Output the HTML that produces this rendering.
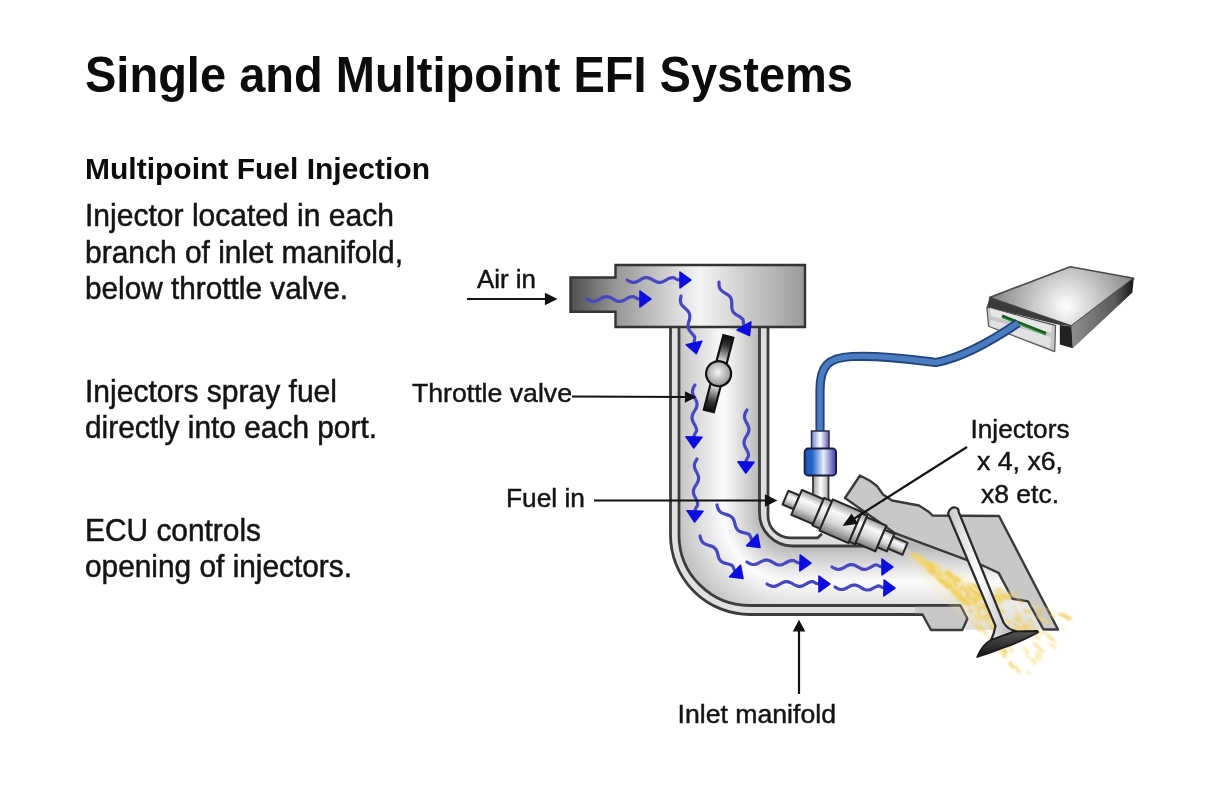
<!DOCTYPE html>
<html><head><meta charset="utf-8">
<style>
html,body{margin:0;padding:0;background:#fff;}
body{width:1215px;height:810px;overflow:hidden;position:relative;}
svg{position:absolute;left:0;top:0;display:block;filter:blur(0.45px);}
</style></head>
<body>
<svg width="1215" height="810" viewBox="0 0 1215 810" font-family="Liberation Sans, sans-serif">
<defs>
  <linearGradient id="gPlen" x1="570" x2="805" y1="0" y2="0" gradientUnits="userSpaceOnUse">
    <stop offset="0" stop-color="#4e4e4e"/><stop offset="0.19" stop-color="#959595"/><stop offset="0.55" stop-color="#f4f4f4"/><stop offset="1" stop-color="#9a9a9a"/>
  </linearGradient>
  <linearGradient id="gStub" x1="570" x2="615" y1="0" y2="0" gradientUnits="userSpaceOnUse">
    <stop offset="0" stop-color="#505050"/><stop offset="1" stop-color="#a4a4a4"/>
  </linearGradient>
  <linearGradient id="gPipe" x1="678.5" x2="759.5" y1="0" y2="0" gradientUnits="userSpaceOnUse">
    <stop offset="0" stop-color="#c4c4c4"/><stop offset="0.56" stop-color="#fcfcfc"/><stop offset="1" stop-color="#b8b8b8"/>
  </linearGradient>
  <radialGradient id="gBend" cx="792.5" cy="513" r="114" fx="792.5" fy="513" gradientUnits="userSpaceOnUse">
    <stop offset="0" stop-color="#b8b8b8"/><stop offset="0.2895" stop-color="#b8b8b8"/><stop offset="0.601" stop-color="#fcfcfc"/><stop offset="1" stop-color="#c4c4c4"/>
  </radialGradient>
  <linearGradient id="gChan" x1="0" x2="0" y1="546" y2="627" gradientUnits="userSpaceOnUse">
    <stop offset="0" stop-color="#b8b8b8"/><stop offset="0.438" stop-color="#fcfcfc"/><stop offset="1" stop-color="#c4c4c4"/>
  </linearGradient>
  <linearGradient id="gCyl" x1="0" x2="0" y1="0" y2="1">
    <stop offset="0" stop-color="#9a9a9a"/><stop offset="0.3" stop-color="#fafafa"/><stop offset="0.65" stop-color="#d4d4d4"/><stop offset="1" stop-color="#7a7a7a"/>
  </linearGradient>
  <linearGradient id="gBlue" x1="0" x2="1" y1="0" y2="0">
    <stop offset="0" stop-color="#1a50b8"/><stop offset="0.25" stop-color="#2a66c8"/><stop offset="0.6" stop-color="#e6eefc"/><stop offset="1" stop-color="#3a3aa8"/>
  </linearGradient>
  <linearGradient id="gWhite" x1="0" x2="1" y1="0" y2="0">
    <stop offset="0" stop-color="#6a86c8"/><stop offset="0.5" stop-color="#ffffff"/><stop offset="1" stop-color="#5a5ab0"/>
  </linearGradient>
  <linearGradient id="gPlate" x1="0" x2="0" y1="0" y2="1">
    <stop offset="0" stop-color="#0c0c0c"/><stop offset="0.12" stop-color="#333"/><stop offset="0.36" stop-color="#f2f2f2"/><stop offset="0.5" stop-color="#ffffff"/><stop offset="0.64" stop-color="#f2f2f2"/><stop offset="0.88" stop-color="#333"/><stop offset="1" stop-color="#0c0c0c"/>
  </linearGradient>
  <radialGradient id="gBall" cx="0.45" cy="0.45" r="0.6">
    <stop offset="0" stop-color="#f6f6f6"/><stop offset="1" stop-color="#8a8a8a"/>
  </radialGradient>
  <radialGradient id="gEcuTop" cx="1066" cy="306" r="80" gradientUnits="userSpaceOnUse">
    <stop offset="0" stop-color="#ffffff"/><stop offset="1" stop-color="#787878"/>
  </radialGradient>
  <linearGradient id="gStem" x1="0" x2="1" y1="0" y2="0">
    <stop offset="0" stop-color="#c8c8c8"/><stop offset="0.45" stop-color="#ffffff"/><stop offset="1" stop-color="#b0b0b0"/>
  </linearGradient>
  <linearGradient id="gNeck" x1="0" x2="1" y1="0" y2="0">
    <stop offset="0" stop-color="#9a9a9a"/><stop offset="0.5" stop-color="#ffffff"/><stop offset="1" stop-color="#a8a8a8"/>
  </linearGradient>
  <linearGradient id="gVHead" x1="0" x2="0" y1="0" y2="1">
    <stop offset="0" stop-color="#555"/><stop offset="1" stop-color="#151515"/>
  </linearGradient>
  <linearGradient id="gEcuSide" x1="1072" y1="0" x2="1134" y2="0" gradientUnits="userSpaceOnUse">
    <stop offset="0" stop-color="#8e8e8e"/><stop offset="0.7" stop-color="#5a5a5a"/><stop offset="1" stop-color="#141414"/>
  </linearGradient>
  <clipPath id="cInt">
    <path d="M679,327 H759.5 V513 A33,33 0 0 0 792.5,546 H850 L894,533 L965.2,559.4 L983.7,567.8 L1000.4,573.3 L1013.3,597.4 L1032,599.3 L1043.5,629.5 L965,629.5 L967,618 L960.5,606 H750 A71,71 0 0 1 679,535 Z"/>
  </clipPath>
  <filter id="soft" x="-20%" y="-20%" width="140%" height="140%"><feGaussianBlur stdDeviation="0.7"/></filter>
  <filter id="soft2" x="-20%" y="-20%" width="140%" height="140%"><feGaussianBlur stdDeviation="0.9"/></filter>
</defs>

<!-- ===== TEXT ===== -->
<g fill="#0c0c0c">
  <text x="85" y="92" font-size="50" font-weight="bold" textLength="768" lengthAdjust="spacingAndGlyphs">Single and Multipoint EFI Systems</text>
  <text x="85" y="179.2" font-size="30" font-weight="bold" textLength="345" lengthAdjust="spacingAndGlyphs">Multipoint Fuel Injection</text>
  <g font-size="30.5" fill="#141414" stroke="#141414" stroke-width="0.5">
    <text x="85" y="226" textLength="309" lengthAdjust="spacingAndGlyphs">Injector located in each</text>
    <text x="85" y="262.5" textLength="318" lengthAdjust="spacingAndGlyphs">branch of inlet manifold,</text>
    <text x="85" y="299" textLength="263" lengthAdjust="spacingAndGlyphs">below throttle valve.</text>
    <text x="85" y="402" textLength="252" lengthAdjust="spacingAndGlyphs">Injectors spray fuel</text>
    <text x="85" y="438" textLength="292" lengthAdjust="spacingAndGlyphs">directly into each port.</text>
    <text x="85" y="541" textLength="176" lengthAdjust="spacingAndGlyphs">ECU controls</text>
    <text x="85" y="577" textLength="267" lengthAdjust="spacingAndGlyphs">opening of injectors.</text>
  </g>
  <g font-size="26.5" fill="#141414" stroke="#141414" stroke-width="0.45">
    <text x="477" y="287.5" textLength="59" lengthAdjust="spacingAndGlyphs">Air in</text>
    <text x="412" y="402" textLength="160" lengthAdjust="spacingAndGlyphs">Throttle valve</text>
    <text x="506" y="506.5" textLength="79" lengthAdjust="spacingAndGlyphs">Fuel in</text>
    <text x="677.5" y="722.5" textLength="158.5" lengthAdjust="spacingAndGlyphs">Inlet manifold</text>
    <text x="970.5" y="437.5" textLength="99" lengthAdjust="spacingAndGlyphs">Injectors</text>
    <text x="977" y="470" textLength="86" lengthAdjust="spacingAndGlyphs">x 4, x6,</text>
    <text x="981" y="502.5" textLength="78" lengthAdjust="spacingAndGlyphs">x8 etc.</text>
  </g>
</g>

<!-- ===== DIAGRAM ===== -->
<g id="diagram">
  <!-- interior -->
  <g clip-path="url(#cInt)">
    <rect x="679" y="320" width="81" height="194" fill="url(#gPipe)"/>
    <rect x="679" y="513" width="114.5" height="95" fill="url(#gBend)"/>
    <rect x="793" y="513" width="270" height="120" fill="url(#gChan)"/>
    <path d="M960,600 L1045,600 L1045,630 L960,630 Z" fill="#f2f2f2" opacity="0.6"/>
  </g>

  <!-- wall bands -->
  <path d="M670.5,327 V535 A79.5,79.5 0 0 0 750,614.5 H924 V605.5 H749.5 A70.5,70.5 0 0 1 679,535 V327 Z" fill="#e0e0e0"/>
  <path d="M759.5,327 V513 A33,33 0 0 0 792.5,546 H866 L822,533.8 L817.6,537.8 H790 A22,22 0 0 1 768,515.8 V327 Z" fill="#dedede"/>

  <!-- wall lines -->
  <g fill="none" stroke="#3c3c3c" stroke-width="2.8" filter="url(#soft)">
    <path d="M670.5,327 V535 A79.5,79.5 0 0 0 750,614.5 H924"/>
    <path d="M679,327 V535 A70.5,70.5 0 0 0 749.5,605.5 H960.5"/>
    <path d="M759.5,327 V513 A33,33 0 0 0 792.5,546 H866"/>
    <path d="M768,327 V515.8 A22,22 0 0 0 790,537.8 H817.6 L822,533.8"/>
  </g>

  <!-- plenum & stub -->
  <path d="M570.5,277.5 H615.5 V265 H805 V327 H615.5 V311.7 H570.5 Z" fill="url(#gPlen)" stroke="#333" stroke-width="2.4" stroke-linejoin="miter"/>

  <!-- upper head -->
  <path d="M845,498 L860,475.5 L869.5,480.5 L877,486 L883,494.5 L892,500.5 L919,505.5 L929,512 L932.5,515.5 L999,516 L1058,629.5 L1043.5,629.5 L1028,601.4 L1012.4,598.8 L998.6,572.9 L983.7,566 L965.2,559.4 L894.2,532.8 Z" fill="#c8c8c8" stroke="#3a3a3a" stroke-width="2.4" stroke-linejoin="round"/>
  <!-- lower head -->
  <path d="M922.5,614.4 L931,630 L962.3,630 L967.4,618.7 L960.5,605.5 L915,605.5 L915,614.4 Z" fill="#c8c8c8"/>
  <path d="M900,614.5 L922.5,614.5 L931,630 L962.3,630 L967.4,618.7 L960.5,605.5 L900,605.5" fill="none" stroke="#3a3a3a" stroke-width="2.4" stroke-linejoin="round"/>

  <!-- blue flow arrows -->
  <g filter="url(#soft)">
<path d="M587.0,299.0 L588.5,299.9 L590.0,300.6 L591.5,301.1 L593.1,301.4 L594.6,301.3 L596.1,300.9 L597.6,300.3 L599.1,299.5 L600.6,298.6 L602.1,297.8 L603.7,297.1 L605.2,296.7 L606.7,296.6 L608.2,296.8 L609.7,297.3 L611.2,298.0 L612.7,298.9 L614.3,299.7 L615.8,300.5 L617.3,301.1 L618.8,301.4 L620.3,301.4 L621.8,301.0 L623.3,300.4 L624.9,299.7 L626.4,298.8 L627.9,297.9 L629.4,297.2 L630.9,296.8 L632.4,296.6 L633.9,296.7 L635.5,297.6 L637.0,298.4 L638.5,298.9 L640.0,299.0" fill="none" stroke="#4646c2" stroke-width="3.2" stroke-linecap="round"/><path d="M640.0,307.0 L651.0,299.0 L640.0,291.0 Z" fill="#0808e0" stroke="#0808e0" stroke-width="1.5" stroke-linejoin="round"/>
<path d="M627.0,280.0 L628.5,280.9 L630.0,281.6 L631.5,282.1 L633.1,282.4 L634.6,282.3 L636.1,281.9 L637.6,281.3 L639.1,280.5 L640.6,279.6 L642.1,278.8 L643.7,278.1 L645.2,277.7 L646.7,277.6 L648.2,277.8 L649.7,278.3 L651.2,279.0 L652.7,279.9 L654.3,280.7 L655.8,281.5 L657.3,282.1 L658.8,282.4 L660.3,282.4 L661.8,282.0 L663.3,281.4 L664.9,280.7 L666.4,279.8 L667.9,278.9 L669.4,278.2 L670.9,277.8 L672.4,277.6 L673.9,277.7 L675.5,278.6 L677.0,279.4 L678.5,279.9 L680.0,280.0" fill="none" stroke="#4646c2" stroke-width="3.2" stroke-linecap="round"/><path d="M680.0,288.0 L691.0,280.0 L680.0,272.0 Z" fill="#0808e0" stroke="#0808e0" stroke-width="1.5" stroke-linejoin="round"/>
<path d="M681.0,296.0 L680.7,297.7 L680.4,299.4 L680.4,301.0 L680.7,302.5 L681.2,304.0 L682.1,305.3 L683.2,306.5 L684.4,307.7 L685.7,308.9 L687.0,310.1 L688.1,311.3 L689.0,312.6 L689.5,314.1 L689.8,315.6 L689.8,317.2 L689.6,318.9 L689.2,320.6 L688.6,322.3 L688.2,324.0 L688.0,325.6 L688.1,327.1 L688.5,328.6 L689.2,330.0 L690.1,331.3 L691.3,332.7 L692.4,334.0 L693.6,335.3 L694.5,336.6 L694.7,338.2 L694.5,339.8 L694.2,341.4 L694.0,343.0" fill="none" stroke="#4646c2" stroke-width="3.2" stroke-linecap="round"/><path d="M686.2,344.7 L696.3,353.7 L701.8,341.3 Z" fill="#0808e0" stroke="#0808e0" stroke-width="1.5" stroke-linejoin="round"/>
<path d="M719.0,282.0 L719.0,283.8 L719.1,285.5 L719.4,287.1 L719.9,288.5 L720.8,289.8 L721.9,290.9 L723.2,292.0 L724.7,292.9 L726.2,293.8 L727.7,294.7 L729.0,295.7 L730.1,296.9 L730.9,298.2 L731.4,299.6 L731.7,301.2 L731.8,303.0 L731.8,304.7 L731.8,306.5 L731.9,308.2 L732.2,309.8 L732.8,311.2 L733.6,312.5 L734.8,313.6 L736.1,314.6 L737.6,315.5 L739.1,316.4 L740.6,317.4 L741.9,318.4 L743.0,319.5 L743.3,321.1 L743.4,322.8 L743.6,324.5 L744.0,326.0" fill="none" stroke="#4646c2" stroke-width="3.2" stroke-linecap="round"/><path d="M737.1,330.0 L749.5,335.6 L750.9,322.0 Z" fill="#0808e0" stroke="#0808e0" stroke-width="1.5" stroke-linejoin="round"/>
<path d="M695.0,385.0 L694.1,386.5 L693.3,388.0 L692.8,389.5 L692.5,391.1 L692.5,392.6 L692.9,394.1 L693.5,395.7 L694.3,397.2 L695.2,398.8 L696.0,400.3 L696.6,401.9 L697.0,403.4 L697.0,404.9 L696.7,406.5 L696.2,408.0 L695.4,409.5 L694.5,411.0 L693.6,412.5 L692.8,414.0 L692.3,415.5 L692.0,417.1 L692.0,418.6 L692.4,420.1 L693.0,421.7 L693.8,423.2 L694.7,424.8 L695.5,426.3 L696.1,427.9 L696.5,429.4 L696.5,430.9 L695.7,432.4 L694.9,434.0 L694.2,435.5 L694.0,437.0" fill="none" stroke="#4646c2" stroke-width="3.2" stroke-linecap="round"/><path d="M686.0,436.8 L693.8,448.0 L702.0,437.2 Z" fill="#0808e0" stroke="#0808e0" stroke-width="1.5" stroke-linejoin="round"/>
<path d="M747.0,410.0 L746.1,411.5 L745.3,413.0 L744.8,414.5 L744.5,416.1 L744.5,417.6 L744.9,419.1 L745.5,420.7 L746.3,422.2 L747.2,423.8 L748.0,425.3 L748.6,426.9 L749.0,428.4 L749.0,429.9 L748.7,431.5 L748.2,433.0 L747.4,434.5 L746.5,436.0 L745.6,437.5 L744.8,439.0 L744.3,440.5 L744.0,442.1 L744.0,443.6 L744.4,445.1 L745.0,446.7 L745.8,448.2 L746.7,449.8 L747.5,451.3 L748.1,452.9 L748.5,454.4 L748.5,455.9 L747.7,457.4 L746.9,459.0 L746.2,460.5 L746.0,462.0" fill="none" stroke="#4646c2" stroke-width="3.2" stroke-linecap="round"/><path d="M738.0,461.8 L745.8,473.0 L754.0,462.2 Z" fill="#0808e0" stroke="#0808e0" stroke-width="1.5" stroke-linejoin="round"/>
<path d="M697.0,459.0 L696.1,460.5 L695.3,462.0 L694.7,463.5 L694.4,465.0 L694.4,466.6 L694.7,468.1 L695.3,469.7 L696.1,471.2 L696.9,472.8 L697.7,474.3 L698.3,475.9 L698.6,477.4 L698.6,479.0 L698.3,480.5 L697.7,482.0 L696.9,483.5 L696.0,485.0 L695.1,486.5 L694.3,488.0 L693.7,489.5 L693.4,491.0 L693.4,492.6 L693.7,494.1 L694.3,495.7 L695.1,497.2 L695.9,498.8 L696.7,500.3 L697.3,501.9 L697.6,503.4 L697.6,505.0 L696.8,506.5 L695.9,508.0 L695.3,509.5 L695.0,511.0" fill="none" stroke="#4646c2" stroke-width="3.2" stroke-linecap="round"/><path d="M687.0,510.7 L694.6,522.0 L703.0,511.3 Z" fill="#0808e0" stroke="#0808e0" stroke-width="1.5" stroke-linejoin="round"/>
<path d="M717.0,505.0 L717.4,506.7 L717.9,508.3 L718.6,509.7 L719.4,511.0 L720.5,512.0 L721.8,512.9 L723.3,513.5 L724.9,514.1 L726.5,514.6 L728.2,515.1 L729.7,515.7 L731.0,516.5 L732.2,517.5 L733.1,518.7 L733.8,520.1 L734.4,521.6 L734.8,523.3 L735.2,525.0 L735.7,526.6 L736.4,528.1 L737.2,529.4 L738.3,530.5 L739.6,531.3 L741.0,531.9 L742.6,532.4 L744.3,532.8 L746.0,533.2 L747.6,533.7 L749.1,534.3 L749.9,535.6 L750.6,537.1 L751.2,538.6 L752.0,540.0" fill="none" stroke="#4646c2" stroke-width="3.2" stroke-linecap="round"/><path d="M746.5,545.8 L760.0,547.5 L757.5,534.2 Z" fill="#0808e0" stroke="#0808e0" stroke-width="1.5" stroke-linejoin="round"/>
<path d="M700.0,536.0 L700.4,537.7 L700.9,539.3 L701.6,540.7 L702.4,542.0 L703.5,543.0 L704.8,543.9 L706.3,544.5 L707.9,545.1 L709.5,545.6 L711.2,546.1 L712.7,546.7 L714.0,547.5 L715.2,548.5 L716.1,549.7 L716.8,551.1 L717.4,552.6 L717.8,554.3 L718.2,556.0 L718.7,557.6 L719.4,559.1 L720.2,560.4 L721.3,561.5 L722.6,562.3 L724.0,562.9 L725.6,563.4 L727.3,563.8 L729.0,564.2 L730.6,564.7 L732.1,565.3 L732.9,566.6 L733.6,568.1 L734.2,569.6 L735.0,571.0" fill="none" stroke="#4646c2" stroke-width="3.2" stroke-linecap="round"/><path d="M729.5,576.8 L743.0,578.5 L740.5,565.2 Z" fill="#0808e0" stroke="#0808e0" stroke-width="1.5" stroke-linejoin="round"/>
<path d="M747.0,562.0 L748.5,562.9 L750.0,563.7 L751.5,564.2 L753.0,564.5 L754.5,564.5 L756.0,564.1 L757.6,563.5 L759.1,562.7 L760.6,561.9 L762.2,561.1 L763.7,560.5 L765.2,560.1 L766.7,560.0 L768.2,560.2 L769.7,560.7 L771.2,561.5 L772.7,562.3 L774.2,563.2 L775.7,564.0 L777.2,564.6 L778.8,565.0 L780.3,565.0 L781.8,564.7 L783.3,564.1 L784.8,563.4 L786.4,562.5 L787.9,561.7 L789.4,561.0 L791.0,560.6 L792.5,560.5 L794.0,560.6 L795.5,561.5 L797.0,562.4 L798.5,562.9 L800.0,563.0" fill="none" stroke="#4646c2" stroke-width="3.2" stroke-linecap="round"/><path d="M799.8,571.0 L811.0,563.2 L800.2,555.0 Z" fill="#0808e0" stroke="#0808e0" stroke-width="1.5" stroke-linejoin="round"/>
<path d="M767.0,584.0 L768.5,584.9 L770.1,585.6 L771.6,586.1 L773.1,586.4 L774.6,586.3 L776.2,585.9 L777.7,585.3 L779.2,584.4 L780.8,583.6 L782.3,582.7 L783.8,582.1 L785.4,581.7 L786.9,581.6 L788.4,581.9 L789.9,582.4 L791.5,583.1 L793.0,584.0 L794.5,584.9 L796.1,585.6 L797.6,586.1 L799.1,586.4 L800.6,586.3 L802.2,585.9 L803.7,585.3 L805.2,584.4 L806.8,583.6 L808.3,582.7 L809.8,582.1 L811.4,581.7 L812.9,581.6 L814.4,582.4 L815.9,583.2 L817.5,583.8 L819.0,584.0" fill="none" stroke="#4646c2" stroke-width="3.2" stroke-linecap="round"/><path d="M819.0,592.0 L830.0,584.0 L819.0,576.0 Z" fill="#0808e0" stroke="#0808e0" stroke-width="1.5" stroke-linejoin="round"/>
<path d="M832.0,567.0 L833.5,567.9 L835.0,568.6 L836.5,569.1 L838.1,569.4 L839.6,569.3 L841.1,568.9 L842.6,568.3 L844.1,567.5 L845.6,566.6 L847.2,565.8 L848.7,565.1 L850.2,564.7 L851.7,564.6 L853.2,564.8 L854.7,565.3 L856.2,566.0 L857.8,566.9 L859.3,567.7 L860.8,568.5 L862.3,569.1 L863.8,569.4 L865.3,569.4 L866.8,569.0 L868.4,568.4 L869.9,567.6 L871.4,566.8 L872.9,565.9 L874.4,565.2 L875.9,564.8 L877.5,565.2 L879.0,565.9 L880.5,566.5 L882.0,567.0" fill="none" stroke="#4646c2" stroke-width="3.2" stroke-linecap="round"/><path d="M882.0,575.0 L893.0,567.0 L882.0,559.0 Z" fill="#0808e0" stroke="#0808e0" stroke-width="1.5" stroke-linejoin="round"/>
<path d="M835.0,587.0 L836.5,587.9 L838.0,588.7 L839.5,589.2 L841.1,589.5 L842.6,589.5 L844.1,589.1 L845.7,588.5 L847.2,587.7 L848.8,586.8 L850.3,586.0 L851.9,585.4 L853.4,585.1 L855.0,585.0 L856.5,585.3 L858.0,585.9 L859.5,586.7 L861.0,587.6 L862.5,588.5 L864.1,589.2 L865.6,589.8 L867.1,590.0 L868.6,590.0 L870.2,589.6 L871.7,589.0 L873.3,588.2 L874.8,587.3 L876.4,586.6 L877.9,585.9 L879.4,586.1 L881.0,586.7 L882.5,587.4 L884.0,588.0" fill="none" stroke="#4646c2" stroke-width="3.2" stroke-linecap="round"/><path d="M883.8,596.0 L895.0,588.2 L884.2,580.0 Z" fill="#0808e0" stroke="#0808e0" stroke-width="1.5" stroke-linejoin="round"/>
  </g>

  <!-- spray -->
  <g filter="url(#soft2)">
<path d="M905,548 L965,575 L1000,610 L985,628 L955,612 L912,566 Z" fill="#f5e2a0" opacity="0.22"/>
<rect x="969.0" y="598.1" width="8.7" height="2.7" fill="#f3d466" opacity="0.68" transform="rotate(42 973.4 599.4)"/>
<rect x="933.1" y="570.3" width="7.5" height="3.0" fill="#f2da80" opacity="0.49" transform="rotate(41 936.9 571.8)"/>
<rect x="926.5" y="566.2" width="8.6" height="2.8" fill="#ecc848" opacity="0.72" transform="rotate(41 930.8 567.7)"/>
<rect x="1035.6" y="656.2" width="7.5" height="2.4" fill="#f0cc50" opacity="0.34" transform="rotate(44 1039.3 657.3)"/>
<rect x="917.3" y="557.0" width="6.0" height="2.2" fill="#ecc848" opacity="0.66" transform="rotate(35 920.3 558.1)"/>
<rect x="998.6" y="597.6" width="5.9" height="2.5" fill="#f0cc50" opacity="0.45" transform="rotate(32 1001.5 598.8)"/>
<rect x="973.4" y="592.6" width="9.0" height="3.2" fill="#f2da80" opacity="0.83" transform="rotate(37 977.9 594.2)"/>
<rect x="954.6" y="579.6" width="6.2" height="2.3" fill="#ecc848" opacity="0.79" transform="rotate(36 957.7 580.7)"/>
<rect x="924.4" y="561.8" width="5.3" height="2.2" fill="#f3d466" opacity="0.76" transform="rotate(37 927.0 562.9)"/>
<rect x="934.0" y="576.3" width="6.9" height="3.2" fill="#f0cc50" opacity="0.63" transform="rotate(47 937.4 577.9)"/>
<rect x="993.9" y="595.8" width="7.7" height="2.5" fill="#f0cc50" opacity="0.59" transform="rotate(32 997.7 597.0)"/>
<rect x="1031.3" y="662.1" width="5.5" height="2.4" fill="#f0cc50" opacity="0.37" transform="rotate(47 1034.1 663.3)"/>
<rect x="972.3" y="598.0" width="7.7" height="2.4" fill="#f3d466" opacity="0.68" transform="rotate(40 976.2 599.2)"/>
<rect x="967.8" y="591.2" width="6.6" height="3.2" fill="#f2da80" opacity="0.45" transform="rotate(39 971.1 592.8)"/>
<rect x="1066.5" y="616.3" width="5.7" height="3.2" fill="#f0cc50" opacity="0.54" transform="rotate(28 1069.3 617.9)"/>
<rect x="914.4" y="555.4" width="6.8" height="2.2" fill="#f2da80" opacity="0.72" transform="rotate(34 917.7 556.5)"/>
<rect x="966.8" y="582.7" width="5.8" height="2.8" fill="#f2da80" opacity="0.46" transform="rotate(33 969.7 584.2)"/>
<rect x="959.1" y="588.1" width="8.8" height="2.7" fill="#ecc848" opacity="0.71" transform="rotate(40 963.5 589.5)"/>
<rect x="934.3" y="566.9" width="8.6" height="3.0" fill="#f3d466" opacity="0.56" transform="rotate(35 938.7 568.4)"/>
<rect x="929.0" y="568.6" width="7.2" height="2.9" fill="#ecc848" opacity="0.62" transform="rotate(43 932.6 570.0)"/>
<rect x="995.2" y="608.2" width="5.4" height="2.2" fill="#f3d466" opacity="0.88" transform="rotate(38 998.0 609.3)"/>
<rect x="1015.1" y="619.0" width="6.7" height="3.1" fill="#f3d466" opacity="0.50" transform="rotate(37 1018.5 620.5)"/>
<rect x="1015.5" y="669.6" width="5.5" height="2.7" fill="#f0cc50" opacity="0.56" transform="rotate(52 1018.2 670.9)"/>
<rect x="943.3" y="585.0" width="5.8" height="2.2" fill="#ecc848" opacity="0.57" transform="rotate(48 946.2 586.1)"/>
<rect x="946.2" y="571.4" width="6.1" height="2.7" fill="#f0cc50" opacity="0.89" transform="rotate(33 949.2 572.7)"/>
<rect x="952.4" y="593.8" width="8.9" height="2.9" fill="#f3d466" opacity="0.76" transform="rotate(47 956.9 595.2)"/>
<rect x="977.4" y="625.2" width="6.9" height="2.6" fill="#f0cc50" opacity="0.59" transform="rotate(51 980.8 626.5)"/>
<rect x="910.6" y="554.2" width="6.9" height="2.9" fill="#f0cc50" opacity="0.59" transform="rotate(43 914.0 555.7)"/>
<rect x="917.6" y="559.4" width="7.9" height="3.1" fill="#f3d466" opacity="0.78" transform="rotate(41 921.6 561.0)"/>
<rect x="1002.2" y="649.7" width="6.4" height="2.9" fill="#ecc848" opacity="0.64" transform="rotate(51 1005.4 651.1)"/>
<rect x="1057.1" y="614.0" width="7.0" height="2.2" fill="#ecc848" opacity="0.56" transform="rotate(28 1060.6 615.1)"/>
<rect x="987.2" y="613.1" width="5.3" height="2.8" fill="#ecc848" opacity="0.90" transform="rotate(43 989.9 614.6)"/>
<rect x="1012.9" y="617.9" width="7.9" height="2.8" fill="#f0cc50" opacity="0.49" transform="rotate(37 1016.9 619.3)"/>
<rect x="980.1" y="604.0" width="6.2" height="2.3" fill="#f0cc50" opacity="0.46" transform="rotate(41 983.2 605.2)"/>
<rect x="974.3" y="603.9" width="8.7" height="2.5" fill="#f2da80" opacity="0.46" transform="rotate(42 978.7 605.1)"/>
<rect x="927.1" y="566.8" width="7.1" height="3.0" fill="#ecc848" opacity="0.60" transform="rotate(42 930.6 568.3)"/>
<rect x="981.1" y="595.9" width="6.6" height="2.5" fill="#f3d466" opacity="0.74" transform="rotate(36 984.4 597.1)"/>
<rect x="1035.4" y="631.6" width="7.3" height="2.5" fill="#ecc848" opacity="0.38" transform="rotate(37 1039.1 632.9)"/>
<rect x="952.8" y="592.9" width="5.2" height="2.3" fill="#f3d466" opacity="0.89" transform="rotate(47 955.4 594.0)"/>
<rect x="922.7" y="562.8" width="8.7" height="3.0" fill="#ecc848" opacity="0.62" transform="rotate(40 927.1 564.4)"/>
<rect x="994.1" y="627.0" width="8.4" height="2.8" fill="#f0cc50" opacity="0.45" transform="rotate(46 998.3 628.4)"/>
<rect x="945.1" y="581.0" width="7.7" height="2.5" fill="#f0cc50" opacity="0.61" transform="rotate(42 949.0 582.3)"/>
<rect x="1000.9" y="610.6" width="5.8" height="3.0" fill="#f3d466" opacity="0.43" transform="rotate(38 1003.8 612.1)"/>
<rect x="999.9" y="653.4" width="5.5" height="2.3" fill="#f2da80" opacity="0.52" transform="rotate(53 1002.6 654.6)"/>
<rect x="1034.1" y="657.1" width="5.8" height="2.7" fill="#f0cc50" opacity="0.40" transform="rotate(45 1037.0 658.5)"/>
<rect x="1013.2" y="627.9" width="5.1" height="2.4" fill="#f3d466" opacity="0.60" transform="rotate(41 1015.8 629.1)"/>
<rect x="957.9" y="596.1" width="8.6" height="2.3" fill="#ecc848" opacity="0.87" transform="rotate(45 962.2 597.3)"/>
<rect x="925.8" y="564.4" width="7.5" height="3.1" fill="#f2da80" opacity="0.62" transform="rotate(40 929.5 565.9)"/>
<rect x="970.7" y="600.9" width="5.8" height="2.9" fill="#f0cc50" opacity="0.82" transform="rotate(43 973.6 602.4)"/>
<rect x="933.5" y="576.7" width="8.9" height="3.2" fill="#f2da80" opacity="0.69" transform="rotate(47 937.9 578.2)"/>
<rect x="943.3" y="580.5" width="5.1" height="2.7" fill="#f2da80" opacity="0.47" transform="rotate(44 945.8 581.8)"/>
<rect x="977.5" y="615.5" width="6.9" height="2.2" fill="#f0cc50" opacity="0.81" transform="rotate(47 980.9 616.6)"/>
<rect x="973.0" y="585.4" width="7.1" height="2.9" fill="#ecc848" opacity="0.86" transform="rotate(33 976.5 586.8)"/>
<rect x="927.9" y="566.7" width="7.9" height="3.0" fill="#ecc848" opacity="0.76" transform="rotate(41 931.9 568.2)"/>
<rect x="983.0" y="615.8" width="8.0" height="2.6" fill="#f3d466" opacity="0.70" transform="rotate(45 987.0 617.1)"/>
<rect x="974.5" y="611.4" width="7.2" height="2.5" fill="#f3d466" opacity="0.62" transform="rotate(46 978.1 612.7)"/>
<rect x="953.3" y="577.3" width="7.2" height="2.5" fill="#ecc848" opacity="0.67" transform="rotate(34 956.8 578.5)"/>
<rect x="982.6" y="604.9" width="7.4" height="2.2" fill="#ecc848" opacity="0.89" transform="rotate(40 986.3 606.0)"/>
<rect x="970.5" y="621.6" width="5.5" height="2.3" fill="#ecc848" opacity="0.53" transform="rotate(53 973.3 622.8)"/>
<rect x="958.1" y="601.0" width="8.7" height="2.5" fill="#f3d466" opacity="0.66" transform="rotate(48 962.4 602.2)"/>
<rect x="949.5" y="591.2" width="8.7" height="3.1" fill="#f0cc50" opacity="0.69" transform="rotate(47 953.9 592.8)"/>
<rect x="932.8" y="572.2" width="8.7" height="2.3" fill="#f0cc50" opacity="0.80" transform="rotate(43 937.1 573.4)"/>
<rect x="914.2" y="554.7" width="5.0" height="2.5" fill="#f3d466" opacity="0.78" transform="rotate(35 916.8 556.0)"/>
<rect x="1003.9" y="595.8" width="7.9" height="2.3" fill="#f2da80" opacity="0.68" transform="rotate(30 1007.9 597.0)"/>
<rect x="1000.5" y="631.7" width="8.5" height="2.2" fill="#f3d466" opacity="0.55" transform="rotate(45 1004.7 632.9)"/>
<rect x="973.0" y="617.1" width="7.1" height="2.4" fill="#f3d466" opacity="0.55" transform="rotate(49 976.5 618.3)"/>
<rect x="937.6" y="577.4" width="8.2" height="3.1" fill="#f2da80" opacity="0.59" transform="rotate(45 941.7 578.9)"/>
<rect x="1043.1" y="620.9" width="8.1" height="2.4" fill="#f3d466" opacity="0.37" transform="rotate(32 1047.2 622.1)"/>
<rect x="928.2" y="562.4" width="6.6" height="2.6" fill="#f3d466" opacity="0.87" transform="rotate(33 931.4 563.7)"/>
<rect x="934.2" y="573.3" width="8.2" height="2.3" fill="#f2da80" opacity="0.71" transform="rotate(43 938.3 574.4)"/>
<rect x="1013.9" y="666.9" width="5.5" height="2.7" fill="#f3d466" opacity="0.59" transform="rotate(52 1016.7 668.2)"/>
<rect x="1021.8" y="629.6" width="5.1" height="3.0" fill="#ecc848" opacity="0.54" transform="rotate(40 1024.4 631.1)"/>
<rect x="930.2" y="564.1" width="5.8" height="3.0" fill="#f0cc50" opacity="0.90" transform="rotate(35 933.1 565.6)"/>
<rect x="997.2" y="594.3" width="7.7" height="2.3" fill="#ecc848" opacity="0.49" transform="rotate(30 1001.1 595.4)"/>
<rect x="972.7" y="598.6" width="6.7" height="2.8" fill="#f0cc50" opacity="0.46" transform="rotate(41 976.0 600.0)"/>
<rect x="1037.1" y="616.2" width="6.8" height="2.9" fill="#f3d466" opacity="0.47" transform="rotate(32 1040.5 617.7)"/>
<rect x="1001.7" y="594.2" width="8.2" height="2.5" fill="#ecc848" opacity="0.49" transform="rotate(29 1005.8 595.5)"/>
<rect x="994.7" y="595.7" width="7.3" height="2.5" fill="#f2da80" opacity="0.79" transform="rotate(32 998.4 597.0)"/>
<rect x="1023.9" y="655.1" width="8.1" height="3.0" fill="#f2da80" opacity="0.47" transform="rotate(46 1028.0 656.6)"/>
<rect x="1022.2" y="648.9" width="8.1" height="3.0" fill="#f3d466" opacity="0.47" transform="rotate(45 1026.2 650.4)"/>
<rect x="918.1" y="558.6" width="6.9" height="2.2" fill="#f0cc50" opacity="0.61" transform="rotate(38 921.5 559.7)"/>
<rect x="936.1" y="579.6" width="7.7" height="2.5" fill="#f3d466" opacity="0.75" transform="rotate(48 939.9 580.8)"/>
<rect x="984.1" y="600.2" width="9.0" height="2.8" fill="#ecc848" opacity="0.77" transform="rotate(37 988.6 601.6)"/>
<rect x="1062.7" y="615.5" width="7.5" height="2.9" fill="#ecc848" opacity="0.42" transform="rotate(28 1066.4 616.9)"/>
<rect x="973.4" y="607.9" width="7.6" height="2.2" fill="#f2da80" opacity="0.57" transform="rotate(45 977.2 609.0)"/>
<rect x="1032.5" y="643.5" width="7.0" height="3.2" fill="#f0cc50" opacity="0.53" transform="rotate(41 1036.0 645.1)"/>
<rect x="988.0" y="626.8" width="5.3" height="2.8" fill="#f0cc50" opacity="0.59" transform="rotate(48 990.7 628.2)"/>
<rect x="956.0" y="597.2" width="6.5" height="3.2" fill="#f0cc50" opacity="0.84" transform="rotate(48 959.3 598.8)"/>
<rect x="968.1" y="594.6" width="6.1" height="2.6" fill="#f2da80" opacity="0.59" transform="rotate(40 971.1 595.9)"/>
<rect x="977.4" y="594.9" width="8.7" height="2.9" fill="#f0cc50" opacity="0.79" transform="rotate(37 981.8 596.4)"/>
<rect x="910.9" y="553.1" width="5.2" height="2.4" fill="#ecc848" opacity="0.79" transform="rotate(36 913.5 554.3)"/>
<rect x="915.7" y="556.6" width="6.6" height="2.8" fill="#f2da80" opacity="0.78" transform="rotate(37 919.0 558.0)"/>
<rect x="916.9" y="560.8" width="6.7" height="2.7" fill="#f3d466" opacity="0.89" transform="rotate(47 920.2 562.2)"/>
<rect x="914.2" y="555.1" width="8.2" height="3.1" fill="#f3d466" opacity="0.51" transform="rotate(34 918.3 556.6)"/>
<rect x="1001.4" y="595.0" width="7.5" height="2.7" fill="#f0cc50" opacity="0.54" transform="rotate(30 1005.2 596.3)"/>
<rect x="961.3" y="582.0" width="6.5" height="2.3" fill="#f2da80" opacity="0.64" transform="rotate(35 964.5 583.1)"/>
<rect x="992.0" y="622.0" width="6.5" height="2.9" fill="#f3d466" opacity="0.61" transform="rotate(45 995.2 623.5)"/>
<rect x="1030.8" y="659.5" width="6.0" height="2.3" fill="#f2da80" opacity="0.64" transform="rotate(46 1033.8 660.7)"/>
<rect x="944.6" y="580.5" width="7.9" height="2.9" fill="#f2da80" opacity="0.54" transform="rotate(42 948.5 581.9)"/>
<rect x="1023.4" y="609.6" width="6.0" height="3.2" fill="#f0cc50" opacity="0.65" transform="rotate(32 1026.4 611.2)"/>
<rect x="1008.1" y="592.1" width="6.0" height="2.2" fill="#f3d466" opacity="0.35" transform="rotate(27 1011.2 593.2)"/>
<rect x="993.7" y="588.7" width="5.3" height="2.9" fill="#f2da80" opacity="0.70" transform="rotate(29 996.3 590.1)"/>
<rect x="977.6" y="596.9" width="6.4" height="2.7" fill="#f0cc50" opacity="0.51" transform="rotate(38 980.8 598.3)"/>
<rect x="1021.4" y="627.7" width="8.3" height="3.0" fill="#ecc848" opacity="0.60" transform="rotate(39 1025.6 629.2)"/>
<rect x="969.2" y="589.6" width="8.2" height="2.6" fill="#f2da80" opacity="0.74" transform="rotate(36 973.4 590.9)"/>
<rect x="945.1" y="584.3" width="8.3" height="2.4" fill="#f0cc50" opacity="0.74" transform="rotate(45 949.2 585.5)"/>
<rect x="974.4" y="594.3" width="7.2" height="2.6" fill="#ecc848" opacity="0.71" transform="rotate(38 978.0 595.6)"/>
<rect x="947.4" y="585.4" width="5.3" height="2.4" fill="#f0cc50" opacity="0.75" transform="rotate(45 950.1 586.6)"/>
<rect x="1004.8" y="620.0" width="8.1" height="2.5" fill="#f3d466" opacity="0.64" transform="rotate(40 1008.8 621.2)"/>
<rect x="955.2" y="591.2" width="6.5" height="2.3" fill="#f2da80" opacity="0.77" transform="rotate(44 958.4 592.3)"/>
<rect x="964.7" y="601.1" width="6.2" height="2.5" fill="#f3d466" opacity="0.63" transform="rotate(46 967.9 602.4)"/>
<rect x="919.3" y="561.7" width="5.1" height="2.9" fill="#f3d466" opacity="0.71" transform="rotate(46 921.9 563.1)"/>
<rect x="1015.8" y="618.1" width="6.6" height="2.4" fill="#f3d466" opacity="0.54" transform="rotate(37 1019.0 619.2)"/>
<rect x="930.0" y="571.7" width="8.5" height="2.5" fill="#f0cc50" opacity="0.46" transform="rotate(45 934.2 572.9)"/>
<rect x="981.3" y="607.6" width="8.9" height="2.9" fill="#f0cc50" opacity="0.81" transform="rotate(42 985.8 609.1)"/>
<rect x="994.1" y="601.4" width="7.2" height="2.5" fill="#f0cc50" opacity="0.57" transform="rotate(35 997.7 602.7)"/>
<rect x="1048.1" y="614.5" width="7.5" height="2.3" fill="#ecc848" opacity="0.59" transform="rotate(29 1051.9 615.7)"/>
<rect x="943.5" y="573.1" width="8.1" height="2.7" fill="#ecc848" opacity="0.79" transform="rotate(36 947.5 574.5)"/>
<rect x="953.3" y="591.5" width="6.3" height="2.3" fill="#f0cc50" opacity="0.67" transform="rotate(46 956.4 592.7)"/>
<rect x="991.9" y="639.2" width="6.6" height="3.0" fill="#f0cc50" opacity="0.56" transform="rotate(51 995.2 640.7)"/>
<rect x="1006.3" y="647.4" width="8.6" height="3.2" fill="#f2da80" opacity="0.55" transform="rotate(49 1010.6 648.9)"/>
<rect x="996.6" y="635.0" width="6.7" height="2.6" fill="#f3d466" opacity="0.39" transform="rotate(48 999.9 636.3)"/>
<rect x="1052.6" y="641.1" width="5.7" height="2.4" fill="#f2da80" opacity="0.48" transform="rotate(37 1055.5 642.3)"/>
<rect x="942.3" y="583.6" width="6.9" height="2.9" fill="#f3d466" opacity="0.59" transform="rotate(47 945.8 585.1)"/>
<rect x="1027.5" y="611.0" width="5.2" height="2.7" fill="#f0cc50" opacity="0.53" transform="rotate(32 1030.1 612.3)"/>
<rect x="954.3" y="578.6" width="6.4" height="2.8" fill="#ecc848" opacity="0.72" transform="rotate(35 957.6 580.0)"/>
<rect x="998.6" y="599.1" width="5.7" height="2.5" fill="#f2da80" opacity="0.53" transform="rotate(33 1001.5 600.3)"/>
<rect x="980.9" y="630.1" width="7.2" height="3.1" fill="#ecc848" opacity="0.50" transform="rotate(51 984.5 631.6)"/>
<rect x="1042.0" y="631.7" width="7.2" height="3.2" fill="#f3d466" opacity="0.50" transform="rotate(36 1045.6 633.3)"/>
<rect x="967.4" y="586.4" width="5.5" height="3.0" fill="#f2da80" opacity="0.89" transform="rotate(36 970.2 587.9)"/>
<rect x="1030.8" y="604.8" width="8.7" height="3.1" fill="#f2da80" opacity="0.63" transform="rotate(29 1035.2 606.3)"/>
<rect x="973.9" y="591.4" width="6.7" height="3.1" fill="#f2da80" opacity="0.64" transform="rotate(36 977.3 592.9)"/>
<rect x="925.1" y="569.2" width="8.2" height="2.3" fill="#f2da80" opacity="0.78" transform="rotate(47 929.2 570.4)"/>
<rect x="985.9" y="593.0" width="7.3" height="2.4" fill="#f3d466" opacity="0.54" transform="rotate(33 989.5 594.2)"/>
<rect x="1036.9" y="608.7" width="6.1" height="2.9" fill="#ecc848" opacity="0.37" transform="rotate(29 1039.9 610.1)"/>
<rect x="1015.9" y="599.8" width="8.0" height="2.7" fill="#f0cc50" opacity="0.51" transform="rotate(29 1019.9 601.2)"/>
<rect x="1020.4" y="625.2" width="8.7" height="2.3" fill="#f3d466" opacity="0.62" transform="rotate(38 1024.8 626.4)"/>
<rect x="913.1" y="555.2" width="7.0" height="3.1" fill="#f2da80" opacity="0.88" transform="rotate(39 916.6 556.8)"/>
<rect x="955.2" y="576.7" width="6.2" height="2.7" fill="#f2da80" opacity="0.77" transform="rotate(33 958.3 578.1)"/>
<rect x="918.7" y="557.8" width="7.7" height="2.9" fill="#f0cc50" opacity="0.79" transform="rotate(34 922.6 559.2)"/>
<rect x="1011.9" y="593.5" width="6.5" height="2.9" fill="#f0cc50" opacity="0.42" transform="rotate(27 1015.1 595.0)"/>
<rect x="976.8" y="587.1" width="9.0" height="3.0" fill="#f3d466" opacity="0.54" transform="rotate(32 981.2 588.6)"/>
<rect x="949.2" y="579.3" width="7.2" height="2.5" fill="#ecc848" opacity="0.60" transform="rotate(38 952.8 580.5)"/>
<rect x="995.4" y="590.4" width="5.8" height="2.6" fill="#f2da80" opacity="0.50" transform="rotate(29 998.3 591.7)"/>
<rect x="1036.9" y="648.5" width="7.9" height="2.5" fill="#f0cc50" opacity="0.62" transform="rotate(42 1040.9 649.8)"/>
<rect x="922.2" y="562.6" width="5.5" height="2.8" fill="#f3d466" opacity="0.53" transform="rotate(43 925.0 564.1)"/>
<rect x="959.1" y="597.8" width="7.4" height="2.3" fill="#f3d466" opacity="0.55" transform="rotate(46 962.7 599.0)"/>
<rect x="1048.5" y="644.6" width="8.1" height="2.5" fill="#f3d466" opacity="0.62" transform="rotate(38 1052.5 645.8)"/>
<rect x="989.2" y="626.4" width="8.3" height="2.6" fill="#ecc848" opacity="0.45" transform="rotate(47 993.3 627.6)"/>
<rect x="987.8" y="622.1" width="7.5" height="2.5" fill="#f3d466" opacity="0.60" transform="rotate(46 991.5 623.4)"/>
<rect x="997.8" y="621.4" width="5.1" height="2.5" fill="#ecc848" opacity="0.45" transform="rotate(43 1000.3 622.7)"/>
<rect x="923.0" y="561.7" width="7.0" height="3.0" fill="#f3d466" opacity="0.82" transform="rotate(38 926.5 563.2)"/>
<rect x="943.2" y="577.8" width="6.2" height="2.4" fill="#f3d466" opacity="0.73" transform="rotate(41 946.3 579.0)"/>
<rect x="994.6" y="596.0" width="8.7" height="3.2" fill="#f3d466" opacity="0.77" transform="rotate(32 998.9 597.6)"/>
<rect x="997.4" y="588.5" width="7.6" height="3.0" fill="#ecc848" opacity="0.51" transform="rotate(28 1001.2 590.0)"/>
<rect x="983.3" y="615.5" width="6.3" height="3.1" fill="#ecc848" opacity="0.61" transform="rotate(45 986.4 617.1)"/>
<rect x="1032.9" y="635.9" width="7.9" height="2.4" fill="#f0cc50" opacity="0.53" transform="rotate(39 1036.9 637.1)"/>
<rect x="991.1" y="597.6" width="8.6" height="3.2" fill="#f3d466" opacity="0.82" transform="rotate(34 995.4 599.2)"/>
<rect x="923.8" y="565.8" width="6.2" height="3.1" fill="#f2da80" opacity="0.56" transform="rotate(46 926.8 567.4)"/>
<rect x="1034.7" y="615.8" width="7.2" height="2.3" fill="#f3d466" opacity="0.35" transform="rotate(32 1038.3 616.9)"/>
<rect x="998.9" y="649.3" width="9.0" height="2.3" fill="#ecc848" opacity="0.59" transform="rotate(51 1003.4 650.5)"/>
<rect x="989.3" y="618.0" width="8.1" height="2.4" fill="#f0cc50" opacity="0.64" transform="rotate(44 993.3 619.2)"/>
<rect x="928.1" y="565.5" width="7.3" height="2.4" fill="#f2da80" opacity="0.68" transform="rotate(39 931.7 566.7)"/>
<rect x="938.9" y="580.6" width="5.2" height="3.0" fill="#f3d466" opacity="0.77" transform="rotate(48 941.5 582.1)"/>
<rect x="964.7" y="592.0" width="5.4" height="2.5" fill="#ecc848" opacity="0.85" transform="rotate(40 967.4 593.3)"/>
<rect x="1012.6" y="624.8" width="9.0" height="3.0" fill="#ecc848" opacity="0.63" transform="rotate(40 1017.1 626.3)"/>
<rect x="1036.7" y="610.9" width="5.5" height="3.1" fill="#ecc848" opacity="0.45" transform="rotate(30 1039.4 612.4)"/>
<rect x="971.0" y="584.7" width="8.6" height="2.5" fill="#ecc848" opacity="0.73" transform="rotate(32 975.4 585.9)"/>
<rect x="1006.4" y="628.4" width="8.0" height="2.5" fill="#f0cc50" opacity="0.54" transform="rotate(43 1010.4 629.7)"/>
<rect x="939.4" y="579.7" width="6.0" height="3.1" fill="#ecc848" opacity="0.89" transform="rotate(46 942.4 581.2)"/>
<rect x="1004.8" y="621.4" width="6.0" height="2.5" fill="#f3d466" opacity="0.47" transform="rotate(41 1007.8 622.6)"/>
<rect x="1007.4" y="664.2" width="7.9" height="3.1" fill="#ecc848" opacity="0.46" transform="rotate(53 1011.4 665.7)"/>
<rect x="994.3" y="594.1" width="7.6" height="2.6" fill="#f0cc50" opacity="0.51" transform="rotate(31 998.1 595.4)"/>
<rect x="921.1" y="563.2" width="5.5" height="2.7" fill="#f0cc50" opacity="0.88" transform="rotate(45 923.9 564.5)"/>
<rect x="947.7" y="584.5" width="5.1" height="2.4" fill="#ecc848" opacity="0.65" transform="rotate(44 950.2 585.7)"/>
<rect x="1026.0" y="626.3" width="6.4" height="2.8" fill="#f0cc50" opacity="0.35" transform="rotate(37 1029.2 627.7)"/>
<rect x="974.0" y="593.6" width="6.3" height="2.3" fill="#ecc848" opacity="0.80" transform="rotate(37 977.1 594.7)"/>
<rect x="1040.9" y="620.2" width="8.4" height="2.9" fill="#f2da80" opacity="0.36" transform="rotate(32 1045.1 621.7)"/>
<rect x="1030.5" y="626.1" width="6.9" height="2.4" fill="#f3d466" opacity="0.63" transform="rotate(36 1034.0 627.3)"/>
<rect x="987.5" y="594.3" width="8.8" height="3.2" fill="#f2da80" opacity="0.74" transform="rotate(33 991.9 595.9)"/>
<rect x="1014.5" y="613.8" width="8.6" height="3.1" fill="#f3d466" opacity="0.58" transform="rotate(35 1018.8 615.3)"/>
<rect x="948.6" y="591.7" width="8.1" height="2.6" fill="#f2da80" opacity="0.53" transform="rotate(48 952.6 593.0)"/>
<rect x="924.2" y="565.0" width="6.1" height="2.9" fill="#f2da80" opacity="0.68" transform="rotate(44 927.2 566.4)"/>
<rect x="1022.6" y="622.6" width="7.6" height="3.1" fill="#f3d466" opacity="0.54" transform="rotate(37 1026.4 624.1)"/>
<rect x="1025.5" y="671.4" width="5.7" height="2.4" fill="#f0cc50" opacity="0.38" transform="rotate(50 1028.4 672.6)"/>
<rect x="976.9" y="589.3" width="8.7" height="2.3" fill="#f0cc50" opacity="0.86" transform="rotate(33 981.2 590.4)"/>
<rect x="997.8" y="601.8" width="6.0" height="3.0" fill="#f2da80" opacity="0.49" transform="rotate(34 1000.8 603.3)"/>
<rect x="1059.4" y="627.9" width="5.7" height="2.9" fill="#f3d466" opacity="0.35" transform="rotate(32 1062.2 629.3)"/>
<rect x="1063.9" y="616.7" width="6.8" height="3.0" fill="#ecc848" opacity="0.47" transform="rotate(28 1067.3 618.2)"/>
<rect x="916.6" y="556.2" width="8.1" height="3.1" fill="#ecc848" opacity="0.59" transform="rotate(33 920.6 557.7)"/>
<rect x="1016.8" y="629.4" width="7.0" height="3.0" fill="#f3d466" opacity="0.57" transform="rotate(40 1020.4 630.9)"/>
<rect x="983.7" y="620.4" width="5.4" height="2.6" fill="#f2da80" opacity="0.75" transform="rotate(47 986.4 621.7)"/>
<rect x="1007.0" y="643.4" width="5.9" height="2.7" fill="#ecc848" opacity="0.41" transform="rotate(48 1010.0 644.7)"/>
<rect x="945.5" y="574.5" width="8.9" height="2.3" fill="#f3d466" opacity="0.65" transform="rotate(35 950.0 575.7)"/>
<rect x="951.7" y="585.6" width="7.4" height="3.0" fill="#f2da80" opacity="0.68" transform="rotate(42 955.4 587.1)"/>
<rect x="1044.0" y="608.1" width="5.5" height="2.4" fill="#f3d466" opacity="0.55" transform="rotate(28 1046.7 609.3)"/>
<rect x="1006.1" y="593.5" width="6.7" height="2.9" fill="#f2da80" opacity="0.61" transform="rotate(28 1009.5 594.9)"/>
<rect x="1014.7" y="626.9" width="7.6" height="2.7" fill="#f3d466" opacity="0.47" transform="rotate(40 1018.5 628.3)"/>
<rect x="928.3" y="569.1" width="8.3" height="3.0" fill="#ecc848" opacity="0.48" transform="rotate(44 932.4 570.6)"/>
<rect x="969.4" y="602.0" width="7.8" height="3.2" fill="#f3d466" opacity="0.51" transform="rotate(44 973.3 603.6)"/>
<rect x="927.6" y="566.2" width="8.0" height="2.2" fill="#f3d466" opacity="0.56" transform="rotate(40 931.6 567.4)"/>
<rect x="920.3" y="561.1" width="6.9" height="3.1" fill="#f3d466" opacity="0.89" transform="rotate(41 923.8 562.7)"/>
<rect x="951.5" y="576.2" width="8.4" height="2.6" fill="#f3d466" opacity="0.49" transform="rotate(34 955.7 577.5)"/>
<rect x="959.3" y="585.4" width="8.9" height="2.8" fill="#ecc848" opacity="0.47" transform="rotate(38 963.7 586.8)"/>
<rect x="973.8" y="626.8" width="7.9" height="2.8" fill="#f3d466" opacity="0.86" transform="rotate(53 977.8 628.2)"/>
<rect x="973.0" y="595.8" width="8.4" height="2.6" fill="#f3d466" opacity="0.80" transform="rotate(39 977.2 597.1)"/>
<rect x="968.5" y="588.6" width="8.2" height="3.0" fill="#ecc848" opacity="0.67" transform="rotate(36 972.6 590.1)"/>
<rect x="938.2" y="573.0" width="6.2" height="2.6" fill="#f3d466" opacity="0.90" transform="rotate(40 941.3 574.3)"/>
<rect x="1039.4" y="619.4" width="6.5" height="2.3" fill="#f2da80" opacity="0.57" transform="rotate(32 1042.6 620.5)"/>
<rect x="1035.2" y="652.2" width="7.1" height="2.9" fill="#f3d466" opacity="0.51" transform="rotate(43 1038.7 653.7)"/>
<rect x="947.0" y="576.7" width="5.6" height="3.1" fill="#f3d466" opacity="0.61" transform="rotate(38 949.8 578.3)"/>
<rect x="994.8" y="641.0" width="5.1" height="2.5" fill="#f0cc50" opacity="0.47" transform="rotate(51 997.4 642.2)"/>
<rect x="1032.4" y="628.8" width="6.0" height="3.1" fill="#f2da80" opacity="0.56" transform="rotate(37 1035.4 630.4)"/>
<rect x="966.6" y="586.6" width="5.2" height="2.4" fill="#f0cc50" opacity="0.72" transform="rotate(36 969.1 587.8)"/>
<rect x="937.4" y="571.7" width="6.9" height="2.9" fill="#f2da80" opacity="0.68" transform="rotate(39 940.9 573.2)"/>
<rect x="952.2" y="582.3" width="6.5" height="3.1" fill="#ecc848" opacity="0.83" transform="rotate(40 955.4 583.8)"/>
<rect x="964.8" y="590.3" width="8.5" height="2.4" fill="#f2da80" opacity="0.58" transform="rotate(39 969.1 591.5)"/>
<rect x="1001.6" y="596.5" width="8.4" height="2.9" fill="#f0cc50" opacity="0.67" transform="rotate(31 1005.8 598.0)"/>
<rect x="1001.3" y="654.3" width="6.2" height="2.9" fill="#f3d466" opacity="0.65" transform="rotate(52 1004.4 655.7)"/>
<rect x="990.3" y="601.0" width="5.5" height="3.0" fill="#f2da80" opacity="0.62" transform="rotate(36 993.1 602.5)"/>
<rect x="920.7" y="560.8" width="6.6" height="2.3" fill="#f2da80" opacity="0.62" transform="rotate(39 924.0 561.9)"/>
<rect x="946.0" y="582.5" width="5.9" height="3.1" fill="#f3d466" opacity="0.54" transform="rotate(44 948.9 584.1)"/>
<rect x="954.1" y="589.9" width="7.1" height="2.9" fill="#f3d466" opacity="0.86" transform="rotate(44 957.6 591.4)"/>
<rect x="977.0" y="594.4" width="8.4" height="2.5" fill="#ecc848" opacity="0.86" transform="rotate(36 981.3 595.7)"/>
<rect x="921.8" y="566.4" width="8.6" height="2.5" fill="#f2da80" opacity="0.62" transform="rotate(47 926.1 567.6)"/>
<rect x="976.0" y="595.2" width="6.0" height="2.2" fill="#f2da80" opacity="0.61" transform="rotate(38 979.0 596.3)"/>
<rect x="992.4" y="598.4" width="7.7" height="2.4" fill="#f2da80" opacity="0.66" transform="rotate(34 996.3 599.5)"/>
<rect x="1047.1" y="636.6" width="7.3" height="3.1" fill="#f0cc50" opacity="0.60" transform="rotate(36 1050.7 638.2)"/>
<rect x="997.4" y="609.2" width="6.7" height="2.5" fill="#ecc848" opacity="0.62" transform="rotate(38 1000.7 610.5)"/>
<rect x="956.5" y="596.6" width="5.2" height="2.3" fill="#f2da80" opacity="0.68" transform="rotate(47 959.1 597.8)"/>
<rect x="978.0" y="600.5" width="5.1" height="2.8" fill="#f2da80" opacity="0.57" transform="rotate(40 980.6 601.9)"/>
<rect x="1011.6" y="606.3" width="5.0" height="2.7" fill="#f3d466" opacity="0.47" transform="rotate(33 1014.1 607.7)"/>
<rect x="974.0" y="617.7" width="8.1" height="2.3" fill="#f2da80" opacity="0.82" transform="rotate(49 978.1 618.8)"/>
<rect x="948.6" y="573.2" width="5.1" height="3.0" fill="#ecc848" opacity="0.54" transform="rotate(34 951.1 574.7)"/>
<rect x="986.6" y="638.7" width="8.3" height="2.4" fill="#ecc848" opacity="0.55" transform="rotate(52 990.7 639.9)"/>
<rect x="1027.8" y="619.8" width="6.7" height="2.6" fill="#ecc848" opacity="0.56" transform="rotate(35 1031.1 621.0)"/>
<rect x="942.9" y="572.9" width="6.3" height="2.4" fill="#f3d466" opacity="0.68" transform="rotate(36 946.1 574.1)"/>
<rect x="1007.5" y="663.4" width="8.3" height="3.1" fill="#ecc848" opacity="0.44" transform="rotate(53 1011.6 665.0)"/>
<rect x="977.1" y="606.7" width="5.2" height="2.8" fill="#ecc848" opacity="0.64" transform="rotate(44 979.6 608.1)"/>
<rect x="915.7" y="556.3" width="7.0" height="3.0" fill="#f2da80" opacity="0.63" transform="rotate(36 919.2 557.8)"/>
<rect x="957.4" y="591.2" width="5.7" height="3.1" fill="#f3d466" opacity="0.54" transform="rotate(44 960.3 592.7)"/>
<rect x="988.9" y="604.5" width="7.8" height="2.8" fill="#f3d466" opacity="0.82" transform="rotate(38 992.8 605.9)"/>
<rect x="925.4" y="563.8" width="7.7" height="2.4" fill="#f0cc50" opacity="0.53" transform="rotate(38 929.2 565.0)"/>
<rect x="969.9" y="602.5" width="8.2" height="3.1" fill="#f2da80" opacity="0.57" transform="rotate(44 974.0 604.1)"/>
<rect x="964.6" y="595.8" width="6.6" height="3.1" fill="#f0cc50" opacity="0.89" transform="rotate(43 967.9 597.3)"/>
<rect x="926.0" y="571.2" width="8.5" height="2.4" fill="#f0cc50" opacity="0.61" transform="rotate(49 930.2 572.4)"/>
<rect x="957.9" y="598.8" width="8.3" height="3.1" fill="#f0cc50" opacity="0.53" transform="rotate(47 962.1 600.3)"/>
<rect x="947.0" y="586.8" width="8.4" height="2.5" fill="#ecc848" opacity="0.63" transform="rotate(46 951.2 588.0)"/>
<rect x="995.8" y="649.0" width="6.6" height="2.9" fill="#f3d466" opacity="0.52" transform="rotate(53 999.1 650.5)"/>
<rect x="964.3" y="601.9" width="7.2" height="3.1" fill="#ecc848" opacity="0.85" transform="rotate(46 967.9 603.4)"/>
<rect x="926.2" y="562.8" width="5.1" height="2.8" fill="#ecc848" opacity="0.51" transform="rotate(38 928.7 564.2)"/>
<rect x="948.2" y="575.8" width="6.9" height="2.6" fill="#f0cc50" opacity="0.57" transform="rotate(36 951.7 577.1)"/>
<rect x="930.6" y="563.2" width="8.0" height="2.9" fill="#f2da80" opacity="0.45" transform="rotate(32 934.6 564.6)"/>
<rect x="967.5" y="609.6" width="5.8" height="3.1" fill="#ecc848" opacity="0.67" transform="rotate(49 970.4 611.2)"/>
<rect x="955.9" y="587.9" width="7.2" height="2.4" fill="#f2da80" opacity="0.73" transform="rotate(42 959.5 589.1)"/>
<rect x="941.4" y="584.4" width="8.5" height="3.2" fill="#f0cc50" opacity="0.65" transform="rotate(48 945.6 586.0)"/>
<rect x="935.4" y="565.5" width="5.7" height="2.3" fill="#f2da80" opacity="0.48" transform="rotate(32 938.2 566.7)"/>
<rect x="911.9" y="554.5" width="5.3" height="2.7" fill="#f0cc50" opacity="0.85" transform="rotate(41 914.5 555.8)"/>
<rect x="1059.9" y="613.2" width="7.1" height="3.0" fill="#ecc848" opacity="0.60" transform="rotate(27 1063.5 614.7)"/>
<rect x="958.7" y="596.6" width="8.3" height="3.0" fill="#f0cc50" opacity="0.89" transform="rotate(46 962.8 598.1)"/>
  </g>

  <!-- valve -->
  <path d="M948,513.5 Q950,507 955.5,507.5 Q959,508.5 958.5,511.5 L1003.5,622.5 Q1008,630 1016,631 L990.9,640.5 Q994,634 995.5,626 Z" fill="url(#gStem)" stroke="#2a2a2a" stroke-width="2.2" stroke-linejoin="round"/>
  <path d="M977.2,657 Q982,645 990.9,640 L1015,631.3 L1037.4,631 Q1039,632.5 1036,633.5 Q1020,642 1002,648.2 Q990,653 977.2,657 Z" fill="url(#gVHead)" stroke="#1a1a1a" stroke-width="1.8" stroke-linejoin="round"/>

  <!-- throttle valve -->
  <g transform="translate(718.6,373.7) rotate(14.7)">
    <rect x="-5.2" y="-38.5" width="10.4" height="77" fill="url(#gPlate)" stroke="#111" stroke-width="2.2"/>
    <circle cx="0" cy="0" r="12.5" fill="url(#gBall)" stroke="#111" stroke-width="2.2"/>
  </g>

  <rect x="813" y="474" width="15.5" height="28" fill="url(#gNeck)" stroke="#333" stroke-width="1.8"/>
  <!-- injector -->
  <g transform="translate(785.5,497.6) rotate(23.2)" stroke="#262626" stroke-width="2" stroke-linejoin="round">
    <rect x="0" y="-7.5" width="12.1" height="15" fill="url(#gCyl)"/>
    <rect x="12.1" y="-13.5" width="23.6" height="27" fill="url(#gCyl)"/>
    <rect x="35.7" y="-15" width="8.5" height="30" fill="url(#gCyl)"/>
    <rect x="44.2" y="-17" width="31.7" height="34" fill="url(#gCyl)"/>
    <rect x="75.9" y="-15.5" width="6.4" height="31" fill="url(#gCyl)"/>
    <rect x="82.3" y="-14" width="21.5" height="28" fill="url(#gCyl)"/>
    <rect x="103.8" y="-9.5" width="10.6" height="19" fill="url(#gCyl)"/>
    <rect x="114.4" y="-6.5" width="15.6" height="13" fill="url(#gCyl)"/>
  </g>

  <!-- ECU -->
  <g stroke-linejoin="round" filter="url(#soft)">
    <path d="M989.5,297.5 L1070.2,266.7 L1133.7,278.3 L1071.5,326 Z" fill="url(#gEcuTop)" stroke="#4a4a4a" stroke-width="1.6"/>
    <path d="M1071.5,326 L1133.7,278.3 L1132.4,292.6 L1072.8,348.3 Z" fill="url(#gEcuSide)"/>
    <path d="M989.5,297.5 L1071.5,326 L1059.8,325 L986.8,307.2 Z" fill="#3a3a3a"/>
    <path d="M1059.8,325 L1071.5,326.5 L1072.8,348.3 L1059.8,344.4 Z" fill="#222"/>
    <path d="M986.8,307.2 L1055.6,325.3 L1054.7,351.6 L988.6,326.2 Z" fill="#c8c8c8" stroke="#555" stroke-width="1.2"/>
    <path d="M990,308 L1052,326 L1051,333 L991,316 Z" fill="#e6e6e6"/>
    <path d="M991,320 L1051,337 L1050,348 L990,326 Z" fill="#e2e2e2"/>
    <path d="M1002,316 L1046,333.5" stroke="#1a5a22" stroke-width="3"/>
    <path d="M1002,317.5 L1046,335" stroke="#3aa04a" stroke-width="1.2"/>
  </g>

  <!-- cable -->
  <path d="M820,434 V390 C820,366 828,357.5 852,356.5 C885,355 915,360 936,362.5 C960,358 990,342 1018,323" fill="none" stroke="#22437c" stroke-width="9.2"/>
  <path d="M820,434 V390 C820,366 828,357.5 852,356.5 C885,355 915,360 936,362.5 C960,358 990,342 1018,323" fill="none" stroke="#4a7cc0" stroke-width="5.6"/>

  <!-- connector -->
  <rect x="811.5" y="431" width="17.5" height="19" fill="url(#gWhite)" stroke="#2a2a50" stroke-width="1.5"/>
  <rect x="804.6" y="448.5" width="31.5" height="27" rx="3.5" fill="url(#gBlue)" stroke="#1a1a40" stroke-width="1.8"/>

    <!-- leader arrows -->
  <g stroke="#111" stroke-width="2.2" fill="#111">
    <line x1="467" y1="299" x2="547" y2="299"/><path d="M546,294.5 L555,299 L546,303.5 Z"/>
    <line x1="572" y1="396.5" x2="688" y2="397"/><path d="M686,393 L694,397 L686,401 Z"/>
    <line x1="594" y1="500.5" x2="767" y2="500.5"/><path d="M766,496 L775,500.5 L766,505 Z"/>
    <line x1="799" y1="694" x2="799" y2="629"/><path d="M794.5,630.5 L799,622 L803.5,630.5 Z"/>
    <line x1="967" y1="447" x2="852" y2="520"/><path d="M845,524.5 L851.5,515.5 L856.5,523 Z"/>
  </g>
</g>
</svg>
</body></html>
